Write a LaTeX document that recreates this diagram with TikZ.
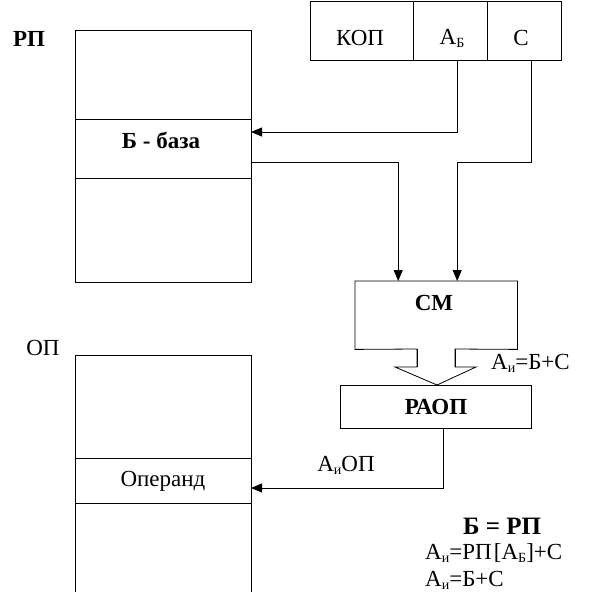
\documentclass[tikz,border=0pt]{standalone}
\usepackage{fontspec}
\setmainfont{Liberation Serif}
\usetikzlibrary{calc,arrows.meta}
\newcommand\lsub[1]{\raisebox{-0.3ex}{\fontsize{14}{14}\selectfont #1}}
\begin{document}
\begin{tikzpicture}[x=1pt,y=-1pt,
  cell/.style={draw,line width=0.8pt,minimum width=#1,inner sep=0pt,outer sep=0pt},
  txt/.style={inner sep=0pt,font=\fontsize{23}{26}\selectfont},
  btxt/.style={inner sep=0pt,font=\fontsize{23}{26}\selectfont\bfseries},
  arr/.style={line width=0.8pt,-{Triangle[length=11pt,width=9pt]}},
  ln/.style={line width=0.8pt}]
\useasboundingbox (0,0) rectangle (590,592);
\clip (0,0) rectangle (590,592);
% instruction format
\node[cell=103pt,minimum height=59pt,anchor=north west] (kop) at (310,1) {};
\node[cell=74pt,minimum height=59pt,anchor=north west] (ab) at (413,1) {};
\node[cell=74pt,minimum height=59pt,anchor=north west] (c) at (487,1) {};
\node[txt] (tkop) at (360,38) {КОП};
\node[txt] (tab) at (452,38) {А\lsub{Б}};
\node[txt] (tc) at (521,38) {С};
% register file
\node[btxt] (rplab) at (29,39) {РП};
\node[cell=176pt,minimum height=89pt,anchor=north west] (rp1) at (75,30) {};
\node[cell=176pt,minimum height=59pt,anchor=north west] (rpb) at (75,119) {};
\node[cell=176pt,minimum height=104pt,anchor=north west] (rp3) at (75,178) {};
\node[btxt] (tb) at (161,140) {Б - база};
% adder
\node[inner sep=0pt,minimum width=162pt,minimum height=68pt,anchor=north west] (sm) at (355,281) {};
\node[btxt] at (434,303) {СМ};
\draw[ln] (417,349) -- (sm.south west) -- (sm.north west) -- (sm.north east) -- (sm.south east) -- (455,349)
  -- (455,367) -- (476,367) -- (437,385) -- (395,367) -- (417,367) -- cycle;
\fill[white] (418,348) rectangle (454,366.5);
\draw[ln] (417,349) -- (417,367) (455,349) -- (455,367);
\node[txt,anchor=west] (ai) at (491,363) {А\lsub{и}=Б+С};
% address register
\node[cell=191pt,minimum height=43pt,anchor=north west] (raop) at (340,385) {};
\node[btxt] at (436,407) {РАОП};
% memory
\node[txt] (oplab) at (43,348) {ОП};
\node[cell=176pt,minimum height=103pt,anchor=north west] (op1) at (75,355) {};
\node[cell=176pt,minimum height=45pt,anchor=north west] (opd) at (75,458) {};
\node[cell=176pt,minimum height=110pt,anchor=north west] (op3) at (75,503) {};
\node[txt] (top) at (163,481) {Операнд};
% connectors
\draw[arr] ($(ab.south)+(7,0)$) |- ($(rpb.north east)+(0,13)$);
\draw[arr] ($(c.south)+(7,0)$) -- ++(0,102) -| ($(sm.north)+(21,0)$);
\draw[arr] ($(rpb.east)+(0,13.5)$) -| ($(sm.north)+(-38,0)$);
\draw[arr] ($(raop.south)+(7.5,0)$) |- ($(opd.east)+(0,7.5)$);
\node[txt] (aiop) at (346,465) {А\lsub{и}ОП};
% formulas
\node[inner sep=0pt,font=\fontsize{25}{28}\selectfont\bfseries] (f1) at (502,526) {Б = РП};
\node[txt,anchor=west] (f2) at (425,553) {А\lsub{и}=РП\hspace{0.1em}[А\lsub{Б}]+С};
\node[txt,anchor=west] (f3) at (425,580) {А\lsub{и}=Б+С};
\end{tikzpicture}
\end{document}
